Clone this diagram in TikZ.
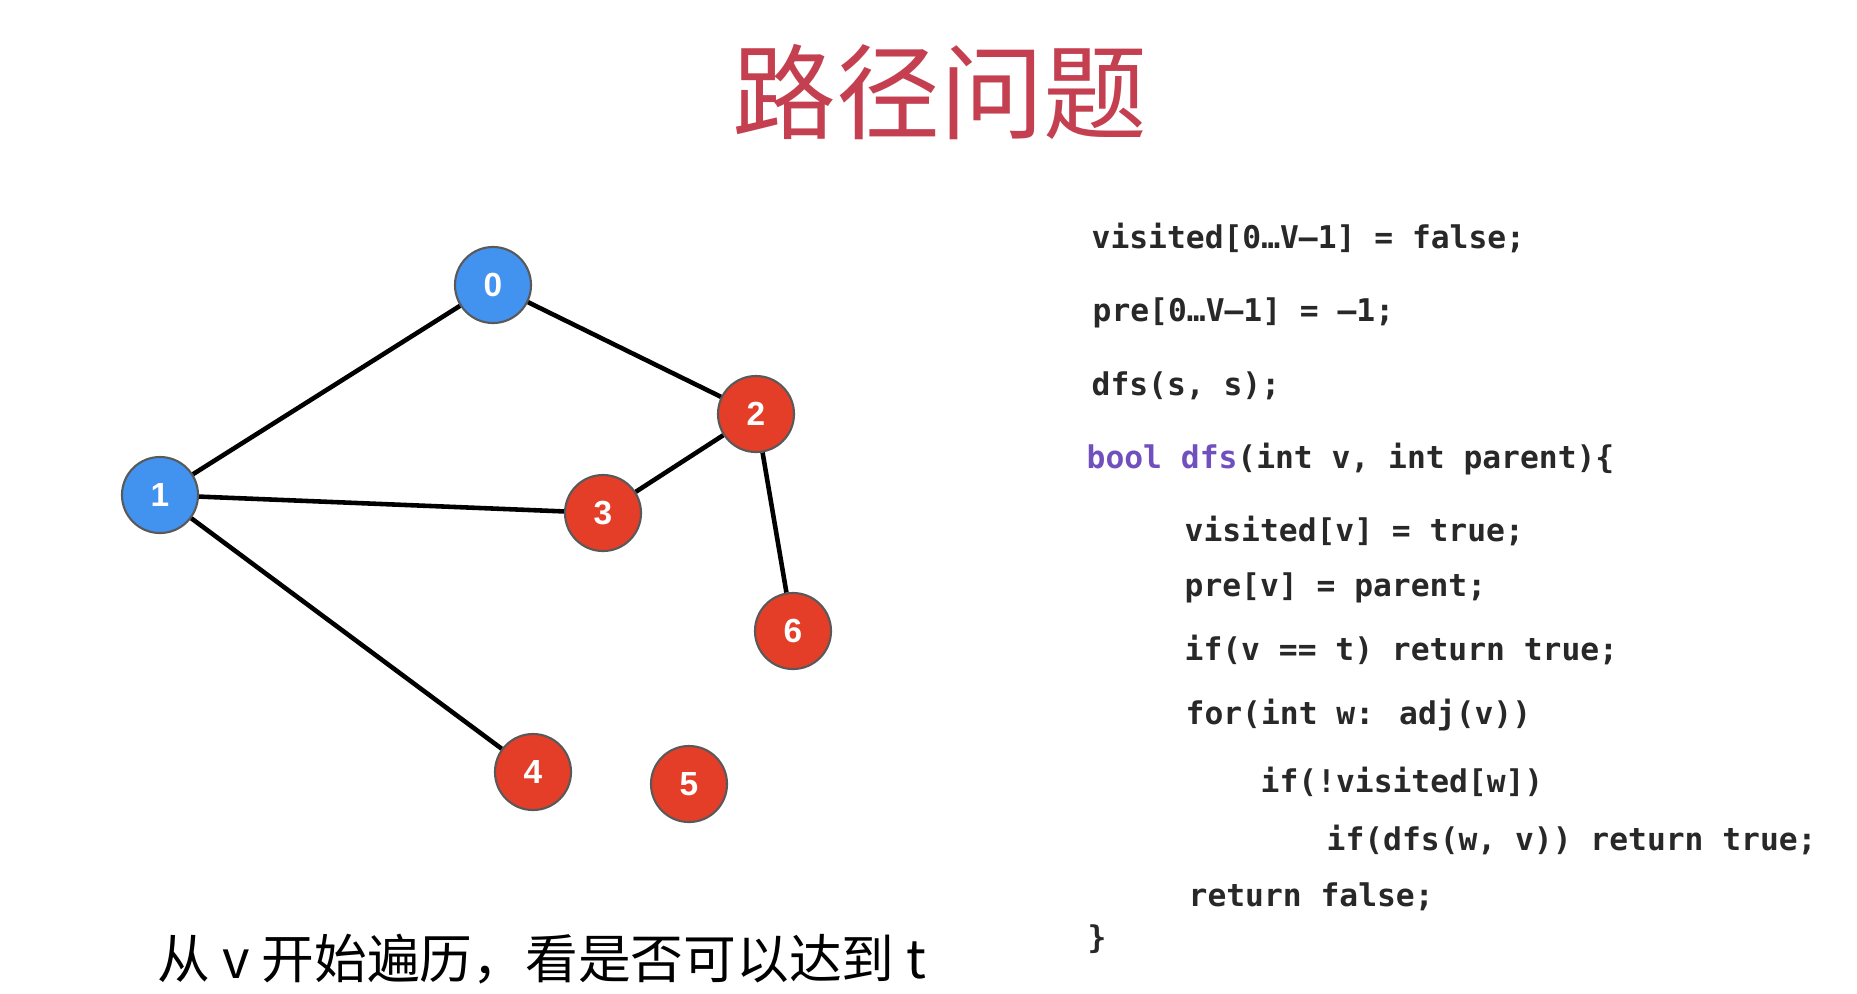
\documentclass[tikz,border=0pt]{standalone}
\usepackage{fontspec}
\usepackage{xcolor}
\usetikzlibrary{positioning}
\newfontfamily\cjkfont{Noto Sans CJK SC}
\newfontfamily\codefont{DejaVu Sans Mono}
\newfontfamily\numfont{Liberation Sans}
\definecolor{titlecolor}{RGB}{196,64,80}
\definecolor{startcolor}{RGB}{66,146,240}
\definecolor{nodecolor}{RGB}{228,62,40}
\definecolor{codecolor}{RGB}{40,40,40}
\definecolor{keycolor}{RGB}{112,80,190}

\begin{document}
\begin{tikzpicture}[
    x=0.01cm, y=-0.01cm,
    vertex/.style={circle, draw=black!65, line width=0.6pt, minimum size=0.76cm, inner sep=0pt, text=white, font=\numfont\bfseries\fontsize{9.5}{11}\selectfont},
    edge/.style={line width=1.3pt, black},
    codeline/.style={anchor=mid west, inner sep=0pt, text=codecolor, font=\codefont\bfseries\fontsize{8.9}{10}\selectfont},
]
    \useasboundingbox (0,0) rectangle (1857,993);

    % Title
    \node[text=titlecolor, font=\cjkfont\fontsize{29.5}{34}\selectfont] (title) at (940,92) {路径问题};

    % Graph nodes
    \node[vertex, fill=startcolor] (n0) at (493,285) {0};
    \node[vertex, fill=startcolor] (n1) at (160,495) {1};
    \node[vertex, fill=nodecolor] (n2) at (756,414) {2};
    \node[vertex, fill=nodecolor] (n3) at (603,513) {3};
    \node[vertex, fill=nodecolor] (n6) at (793,631) {6};
    \node[vertex, fill=nodecolor] (n4) at (533,772) {4};
    \node[vertex, fill=nodecolor] (n5) at (689,784) {5};

    % Edges
    \draw[edge] (n0) -- (n1);
    \draw[edge] (n0) -- (n2);
    \draw[edge] (n1) -- (n3);
    \draw[edge] (n2) -- (n3);
    \draw[edge] (n2) -- (n6);
    \draw[edge] (n1) -- (n4);

    % Code
    \node[codeline] (c1) at (1091,241) {visited[0…V–1] = false;};
    \node[codeline] (c2) at (1092,314) {pre[0…V–1] = –1;};
    \node[codeline] (c3) at (1091,388) {dfs(s, s);};
    \node[codeline] (c4) at (1086,461) {\textcolor{keycolor}{bool dfs}(int v, int parent)\{};
    \node[codeline] (c5) at (1184,534) {visited[v] = true;};
    \node[codeline] (c6) at (1184,589) {pre[v] = parent;};
    \node[codeline] (c7) at (1184,653) {if(v == t) return true;};
    \node[codeline] (c8) at (1185,717) {for(int w: adj(v))};
    \node[codeline] (c9) at (1260,785) {if(!visited[w])};
    \node[codeline] (c10) at (1326,843) {if(dfs(w, v)) return true;};
    \node[codeline] (c11) at (1188,899) {return false;};
    \node[codeline] (c12) at (1087,941) {\}};

    % Caption
    \node[anchor=west, inner sep=0pt, font=\cjkfont\fontsize{15}{18}\selectfont] (caption) at (157,959) {从 v 开始遍历，看是否可以达到 t};
\end{tikzpicture}
\end{document}
